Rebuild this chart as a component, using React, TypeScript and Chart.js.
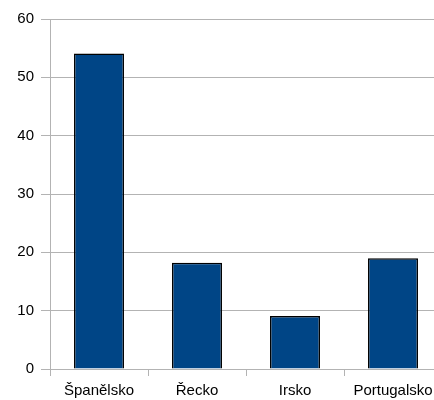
import React, { useEffect, useRef } from "react";
import { Chart, registerables } from "chart.js";

Chart.register(...registerables);

const categories = ["Španělsko", "Řecko", "Irsko", "Portugalsko"];
const values = [54.1, 18.2, 9.1, 19];
const yMin = 0;
const yMax = 60;
const yStep = 10;

const GRID = "#b3b3b3";
const FONT = { family: "'Liberation Sans', Arial, sans-serif", size: 15 };

export default function App() {
  const ref = useRef<HTMLCanvasElement | null>(null);

  useEffect(() => {
    if (!ref.current) return;
    const chart = new Chart(ref.current, {
      type: "bar",
      data: {
        labels: categories,
        datasets: [
          {
            data: values,
            backgroundColor: "#004586",
            borderColor: "#000000",
            borderWidth: 1.5,
            categoryPercentage: 1,
            barPercentage: 0.51,
          },
        ],
      },
      options: {
        responsive: false,
        animation: false,
        devicePixelRatio: 1,
        layout: { padding: { top: 19, left: 0, right: 0, bottom: 0 } },
        plugins: { legend: { display: false }, tooltip: { enabled: false } },
        scales: {
          x: {
            grid: {
              display: true,
              drawOnChartArea: false,
              drawTicks: true,
              tickLength: 7,
              color: GRID,
              offset: true,
            },
            border: { display: true, color: GRID },
            ticks: { color: "#000", font: FONT, padding: 6, maxRotation: 0, autoSkip: false },
            afterFit: (s: any) => {
              s.height = 31;
            },
          },
          y: {
            min: yMin,
            max: yMax,
            grid: { color: GRID, tickLength: 9, drawTicks: true },
            border: { display: true, color: GRID },
            ticks: { stepSize: yStep, color: "#000", font: FONT, padding: 7 },
            afterFit: (s: any) => {
              s.width = 50;
            },
          },
        },
      },
    });
    return () => chart.destroy();
  }, []);

  return (
    <div
      style={{
        position: "fixed",
        left: 0,
        top: 0,
        width: 434,
        height: 400,
        overflow: "hidden",
        background: "#fff",
      }}
    >
      <canvas ref={ref} width={442} height={400} style={{ display: "block" }} />
    </div>
  );
}
